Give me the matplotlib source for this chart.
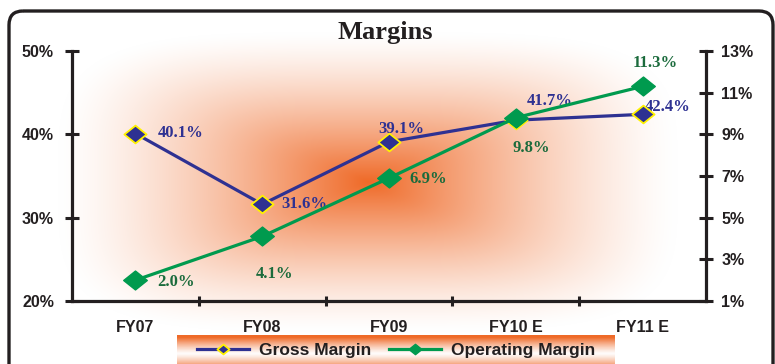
import numpy as np
import matplotlib
matplotlib.use("Agg")
import matplotlib.pyplot as plt
from matplotlib.patches import FancyBboxPatch
from matplotlib.path import Path
from matplotlib.ticker import FuncFormatter
from matplotlib.font_manager import FontProperties

years = ["FY07", "FY08", "FY09", "FY10 E", "FY11 E"]
gross_margin = [40.1, 31.6, 39.1, 41.7, 42.4]
operating_margin = [2.0, 4.1, 6.9, 9.8, 11.3]

# label offsets (points) and alignment for each value label
gross_offsets = [(16, 0, "left"), (14, 0, "left"), (-8, 9, "left"), (8, 14, "left"), (1.5, 5, "left")]
oper_offsets = [(16, -1, "left"), (9, -27, "center"), (15, -1, "left"), (11, -22, "center"), (9, 17, "center")]

W, H = 775, 364
INK = "#231F20"
NAVY = "#2E3192"
GREEN = "#009A4E"
DKGREEN = "#1B6B3C"
ORANGE = np.array([239, 106, 40]) / 255.0

fig = plt.figure(figsize=(W / 100, H / 100), dpi=100)

# background layer in pixel coordinates
bg = fig.add_axes([0, 0, 1, 1])
bg.axis("off")

# soft rectangular glow behind the plot
xx, yy = np.meshgrid(np.arange(W) + 0.5, np.arange(H) + 0.5)
cx, cy, hx, hy = 368, 182, 310, 150
u = np.abs(xx - cx) / hx
v = np.abs(yy - cy) / hy
d = (u ** 4 + v ** 4) ** (1 / 4)
t = np.clip(1 - d, 0, 1) ** 1.35
img = np.ones((H, W, 3)) * (1 - t[..., None]) + ORANGE * t[..., None]
bg.imshow(img, extent=(0, W, H, 0), zorder=0, interpolation="bilinear")

# striped legend band
lx0, lx1, ly0, ly1 = 177, 615, 335, 372
s = np.linspace(-1, 1, 60)
band = np.clip(np.abs(s) ** 1.2 * 1.15, 0, 1)
strip = np.ones((60, 1, 3)) * (1 - band[:, None, None]) + ORANGE * band[:, None, None]
strip = strip * (1 - 0.06 * (1 - band[:, None, None])) + np.array([0.97, 0.82, 0.76]) * 0.06 * (1 - band[:, None, None])
bg.imshow(strip, extent=(lx0, lx1, ly1, ly0), aspect="auto", zorder=1, interpolation="bilinear")

# rounded outer border
bg.add_patch(FancyBboxPatch((9, 11), 764, 420, boxstyle="round,pad=0,rounding_size=14",
                            fill=False, lw=2.4, ec=INK, zorder=2))
bg.set_xlim(0, W)
bg.set_ylim(H, 0)

ax = fig.add_axes([72 / W, 1 - 301 / H, (706 - 72) / W, 250 / H])
ax.patch.set_alpha(0)
ax2 = ax.twinx()

diamond = Path([(-1, 0), (0, 0.8), (1, 0), (0, -0.8), (-1, 0)],
               [Path.MOVETO, Path.LINETO, Path.LINETO, Path.LINETO, Path.CLOSEPOLY])

x = np.arange(len(years))
g_line, = ax.plot(x, gross_margin, color=NAVY, lw=2.3, marker=diamond, ms=16,
                  mfc=NAVY, mec="#FFF200", mew=1.3, zorder=3, label="Gross Margin")
o_line, = ax2.plot(x, operating_margin, color=GREEN, lw=2.3, marker=diamond, ms=17,
                   mfc=GREEN, mec=GREEN, mew=1, zorder=3, label="Operating Margin")

label_font = dict(family="Liberation Serif", weight="bold", size=12)
for xi, val, (dx, dy, ha) in zip(x, gross_margin, gross_offsets):
    ax.annotate(f"{val:.1f}%", (xi, val), xytext=(dx, dy), textcoords="offset points",
                ha=ha, va="center", color=NAVY, zorder=2, **label_font)
for xi, val, (dx, dy, ha) in zip(x, operating_margin, oper_offsets):
    ax2.annotate(f"{val:.1f}%", (xi, val), xytext=(dx, dy), textcoords="offset points",
                 ha=ha, va="center", color=DKGREEN, zorder=2, **label_font)

ax.set_xlim(-0.5, 4.5)
ax.set_ylim(20, 50)
ax2.set_ylim(1, 13)
ax.set_yticks([20, 30, 40, 50])
ax2.set_yticks([1, 3, 5, 7, 9, 11, 13])
pct = FuncFormatter(lambda val, pos: f"{val:.0f}%")
ax.yaxis.set_major_formatter(pct)
ax2.yaxis.set_major_formatter(pct)

ax.set_xticks(x)
ax.set_xticklabels(years)
ax.set_xticks(np.arange(0.5, 4.5, 1), minor=True)

tick_fp = FontProperties(family="Liberation Sans", weight="bold", size=11.5)
for lab in ax.get_xticklabels() + ax.get_yticklabels() + ax2.get_yticklabels():
    lab.set_fontproperties(tick_fp)
    lab.set_color(INK)

ax.tick_params(axis="x", which="major", length=0, pad=14)
ax.tick_params(axis="x", which="minor", direction="inout", length=7, width=2.2, color=INK)
ax.tick_params(axis="y", direction="inout", length=10, width=2.2, color=INK, pad=8)
ax2.tick_params(axis="y", direction="inout", length=10, width=2.2, color=INK, pad=6)

for a in (ax, ax2):
    a.spines["top"].set_visible(False)
    for side in ("left", "bottom", "right"):
        a.spines[side].set_linewidth(2.3)
        a.spines[side].set_color(INK)
ax2.spines["left"].set_visible(False)
ax2.spines["bottom"].set_visible(False)
ax.spines["right"].set_visible(False)

fig.text(385 / W, 1 - 32 / H, "Margins", ha="center", va="center",
         family="Liberation Serif", weight="bold", size=19, color=INK)

fig.legend([g_line, o_line], ["Gross Margin", "Operating Margin"], loc="center",
           bbox_to_anchor=((lx0 + lx1) / 2 / W, 1 - 350 / H), ncol=2, frameon=False,
           prop=dict(family="Liberation Sans", weight="bold", size=12.5),
           handlelength=3, columnspacing=1.0, handletextpad=0.6, markerscale=0.55,
           labelcolor=INK, borderpad=0)

fig.savefig("out.png", dpi=100)
